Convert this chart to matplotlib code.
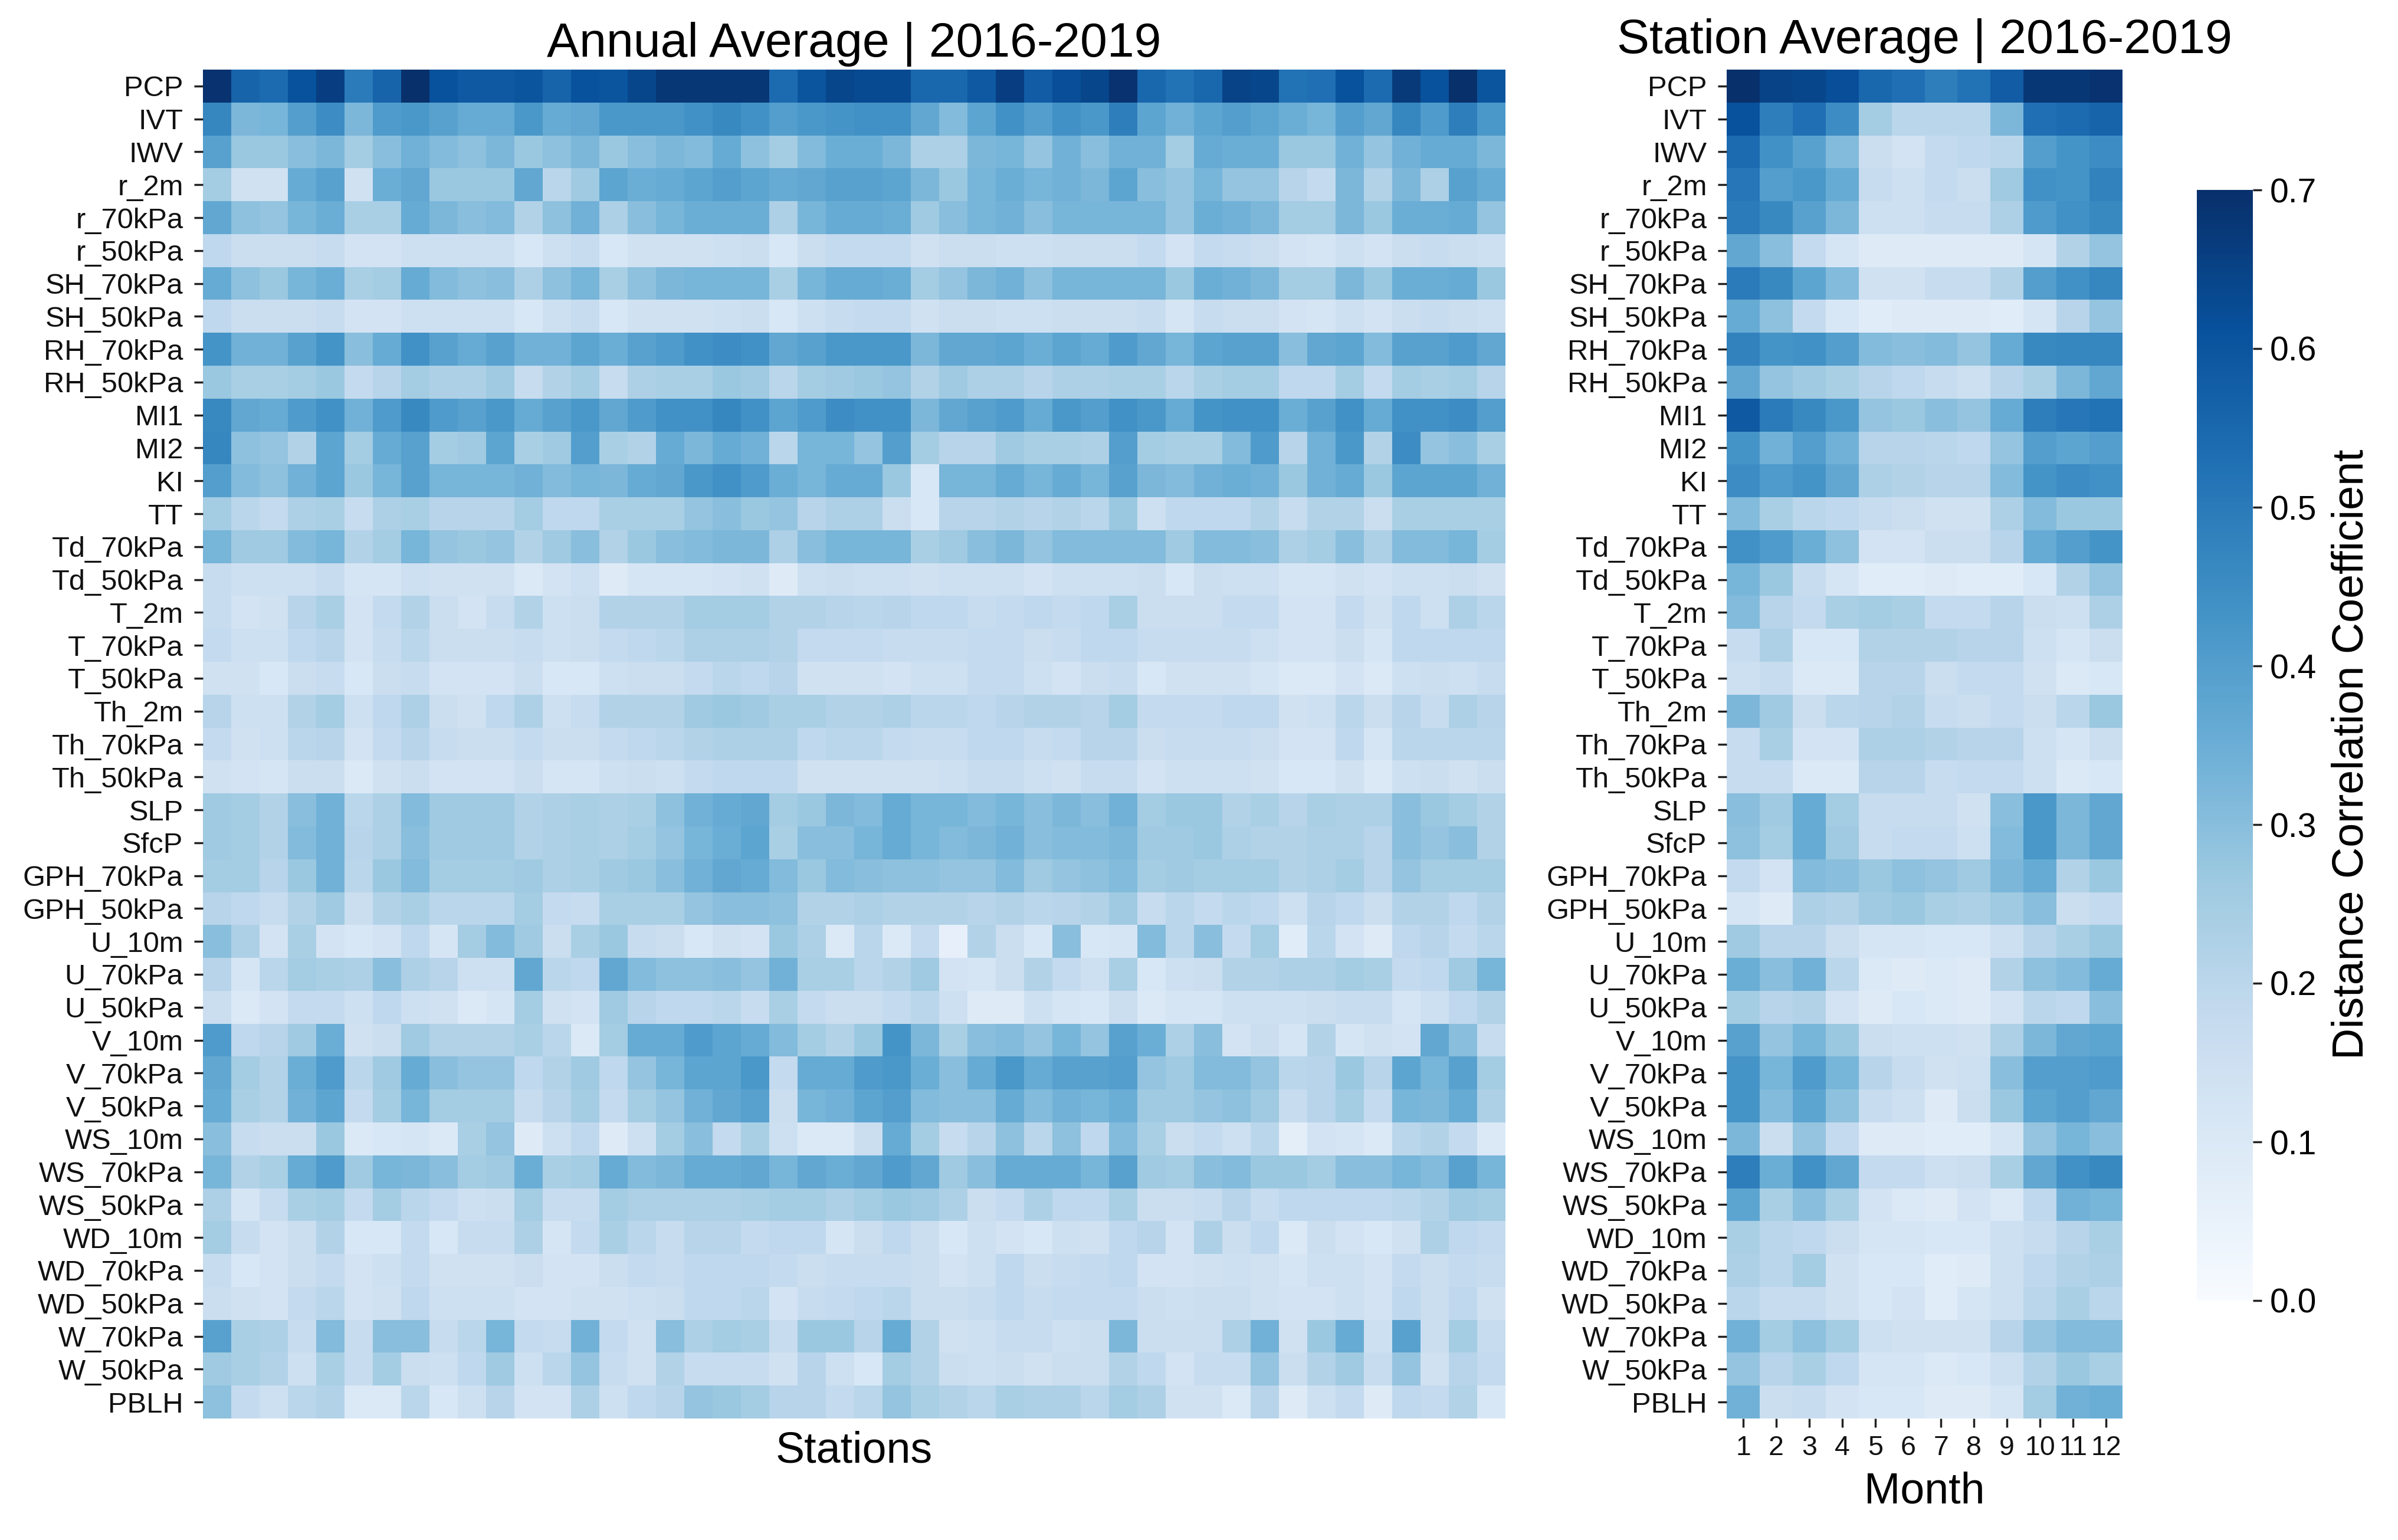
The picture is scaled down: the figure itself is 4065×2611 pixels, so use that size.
import numpy as np
import matplotlib
matplotlib.use("Agg")
import matplotlib.pyplot as plt

plt.rcParams['font.family'] = ['Liberation Sans', 'DejaVu Sans']

variables = ["PCP","IVT","IWV","r_2m","r_70kPa","r_50kPa","SH_70kPa","SH_50kPa","RH_70kPa","RH_50kPa",
             "MI1","MI2","KI","TT","Td_70kPa","Td_50kPa","T_2m","T_70kPa","T_50kPa","Th_2m","Th_70kPa",
             "Th_50kPa","SLP","SfcP","GPH_70kPa","GPH_50kPa","U_10m","U_70kPa","U_50kPa","V_10m","V_70kPa",
             "V_50kPa","WS_10m","WS_70kPa","WS_50kPa","WD_10m","WD_70kPa","WD_50kPa","W_70kPa","W_50kPa","PBLH"]
months = [str(m) for m in range(1, 13)]

station_values = [
[.69,.56,.54,.61,.66,.50,.56,.70,.61,.59,.59,.60,.56,.61,.60,.64,.68,.68,.68,.68,.54,.60,.64,.63,.63,.55,.55,.59,.66,.58,.62,.64,.69,.55,.52,.55,.65,.64,.52,.53,.61,.54,.67,.61,.70,.60],
[.47,.32,.33,.40,.45,.32,.41,.42,.39,.36,.36,.42,.36,.37,.42,.42,.42,.44,.46,.44,.40,.42,.43,.44,.44,.37,.31,.38,.44,.40,.44,.42,.49,.38,.34,.38,.40,.38,.35,.33,.40,.37,.47,.41,.49,.42],
[.39,.27,.27,.30,.32,.25,.30,.34,.31,.29,.32,.27,.29,.32,.27,.30,.32,.31,.36,.29,.25,.31,.35,.35,.32,.23,.23,.32,.33,.28,.34,.30,.34,.34,.25,.36,.35,.35,.27,.27,.34,.28,.34,.36,.36,.32],
[.25,.14,.14,.36,.39,.14,.35,.37,.27,.27,.27,.37,.20,.26,.38,.35,.36,.38,.40,.38,.36,.37,.39,.39,.38,.32,.27,.33,.35,.33,.34,.32,.38,.30,.28,.33,.28,.28,.21,.18,.32,.22,.32,.23,.39,.36],
[.37,.29,.28,.33,.35,.24,.24,.36,.32,.30,.31,.22,.29,.34,.23,.30,.33,.35,.35,.35,.23,.33,.36,.36,.35,.26,.30,.33,.34,.30,.33,.33,.33,.33,.28,.35,.34,.32,.25,.25,.32,.27,.35,.35,.36,.28],
[.19,.16,.16,.16,.17,.13,.13,.15,.15,.15,.15,.11,.15,.17,.11,.14,.14,.14,.15,.16,.11,.16,.18,.18,.18,.14,.16,.16,.15,.15,.16,.16,.16,.18,.13,.18,.17,.16,.13,.12,.15,.13,.16,.17,.16,.15],
[.36,.29,.27,.33,.35,.24,.25,.36,.31,.29,.30,.23,.29,.33,.24,.29,.32,.33,.33,.33,.24,.33,.36,.36,.35,.25,.28,.32,.34,.29,.33,.33,.33,.33,.27,.35,.34,.32,.25,.25,.32,.27,.35,.35,.36,.27],
[.19,.16,.16,.16,.17,.13,.13,.15,.15,.15,.15,.11,.15,.17,.11,.14,.14,.14,.15,.16,.11,.15,.17,.18,.18,.14,.16,.16,.15,.15,.16,.16,.16,.17,.12,.17,.16,.16,.13,.12,.15,.13,.16,.17,.16,.15],
[.43,.34,.34,.39,.43,.30,.36,.44,.39,.36,.39,.34,.34,.38,.35,.39,.41,.44,.45,.44,.37,.39,.42,.42,.42,.32,.37,.37,.38,.35,.38,.36,.41,.37,.33,.38,.39,.39,.30,.37,.38,.31,.39,.39,.41,.37],
[.27,.24,.24,.25,.27,.18,.21,.25,.23,.23,.26,.17,.22,.25,.17,.23,.24,.24,.27,.26,.20,.25,.26,.27,.28,.22,.26,.23,.23,.21,.23,.23,.24,.24,.20,.24,.25,.25,.19,.19,.25,.18,.25,.24,.25,.21],
[.46,.37,.36,.41,.44,.34,.41,.46,.41,.39,.42,.36,.39,.42,.37,.41,.44,.44,.47,.44,.38,.41,.45,.44,.44,.32,.37,.39,.41,.36,.42,.40,.44,.42,.36,.43,.44,.44,.35,.39,.44,.36,.44,.44,.45,.40],
[.47,.29,.28,.22,.38,.25,.36,.39,.25,.26,.38,.24,.26,.40,.24,.22,.36,.32,.36,.34,.20,.33,.33,.28,.40,.25,.21,.21,.26,.24,.24,.23,.40,.25,.24,.24,.31,.41,.21,.34,.42,.22,.45,.28,.30,.24],
[.40,.31,.29,.34,.38,.27,.33,.39,.33,.33,.33,.34,.31,.33,.32,.36,.37,.42,.44,.41,.35,.33,.36,.36,.27,.11,.33,.33,.36,.33,.36,.33,.39,.32,.31,.34,.35,.34,.27,.34,.36,.27,.38,.38,.38,.34],
[.25,.20,.18,.23,.24,.17,.23,.24,.21,.21,.21,.25,.19,.19,.24,.24,.24,.28,.30,.27,.28,.21,.23,.23,.16,.11,.21,.21,.22,.21,.22,.20,.27,.15,.19,.19,.19,.22,.17,.22,.22,.16,.24,.24,.24,.24],
[.33,.26,.26,.31,.33,.22,.25,.33,.28,.27,.28,.22,.26,.30,.22,.27,.30,.31,.32,.32,.23,.30,.33,.33,.33,.24,.26,.30,.32,.28,.31,.31,.31,.31,.26,.31,.31,.30,.23,.25,.30,.23,.31,.31,.33,.25],
[.17,.15,.15,.15,.17,.12,.12,.15,.14,.14,.14,.10,.13,.15,.09,.12,.12,.12,.13,.14,.09,.15,.16,.15,.15,.14,.15,.15,.15,.13,.15,.15,.15,.16,.11,.16,.15,.15,.12,.12,.14,.13,.15,.15,.16,.14],
[.17,.13,.14,.21,.24,.13,.18,.22,.16,.13,.17,.22,.15,.16,.22,.22,.22,.25,.25,.25,.22,.22,.21,.20,.21,.19,.19,.17,.18,.19,.18,.19,.24,.16,.16,.16,.18,.18,.13,.13,.18,.14,.19,.15,.23,.20],
[.18,.15,.15,.19,.21,.13,.17,.20,.16,.16,.16,.17,.15,.16,.18,.19,.20,.23,.23,.23,.22,.18,.18,.18,.17,.17,.17,.18,.18,.16,.17,.19,.19,.17,.17,.17,.17,.15,.13,.13,.16,.12,.19,.19,.19,.19],
[.14,.14,.11,.16,.17,.11,.16,.17,.13,.13,.13,.16,.11,.11,.15,.16,.16,.18,.20,.19,.21,.14,.14,.14,.13,.15,.15,.18,.18,.15,.13,.16,.17,.11,.14,.14,.14,.12,.10,.10,.13,.10,.15,.16,.15,.17],
[.21,.15,.15,.22,.25,.15,.19,.23,.16,.14,.19,.23,.15,.17,.22,.22,.22,.26,.27,.26,.24,.24,.22,.22,.23,.20,.20,.19,.21,.22,.22,.21,.25,.18,.18,.18,.19,.19,.14,.15,.20,.16,.21,.17,.23,.21],
[.18,.14,.15,.20,.21,.13,.18,.21,.17,.16,.16,.18,.16,.16,.18,.19,.20,.22,.23,.23,.23,.19,.20,.20,.18,.17,.17,.19,.19,.17,.18,.21,.21,.16,.17,.17,.17,.16,.13,.13,.19,.12,.20,.20,.20,.20],
[.14,.13,.12,.16,.16,.10,.14,.16,.13,.13,.13,.16,.12,.12,.15,.16,.15,.18,.19,.19,.19,.14,.14,.14,.14,.14,.15,.17,.17,.15,.14,.17,.17,.13,.15,.15,.15,.14,.11,.11,.14,.10,.15,.16,.14,.16],
[.26,.25,.22,.30,.34,.20,.23,.31,.26,.26,.26,.22,.23,.24,.23,.24,.29,.34,.36,.37,.25,.27,.32,.31,.36,.33,.33,.31,.33,.30,.32,.30,.34,.25,.27,.27,.22,.24,.21,.24,.23,.23,.30,.27,.25,.22],
[.26,.25,.22,.31,.34,.21,.23,.30,.26,.26,.26,.22,.23,.24,.23,.25,.28,.33,.35,.38,.24,.30,.30,.33,.36,.33,.31,.32,.34,.30,.31,.31,.32,.26,.26,.27,.23,.22,.22,.23,.23,.21,.30,.28,.30,.22],
[.25,.25,.21,.27,.34,.20,.27,.31,.25,.25,.25,.26,.23,.24,.26,.27,.30,.34,.37,.36,.31,.27,.31,.30,.29,.29,.28,.28,.31,.26,.28,.29,.31,.25,.26,.25,.25,.25,.22,.23,.25,.21,.28,.25,.25,.25],
[.21,.19,.17,.22,.26,.16,.22,.24,.20,.20,.20,.25,.18,.17,.24,.24,.24,.28,.30,.30,.29,.22,.22,.23,.22,.22,.22,.21,.22,.20,.21,.22,.26,.17,.20,.18,.20,.19,.15,.21,.19,.16,.22,.22,.19,.22],
[.30,.23,.13,.24,.13,.11,.13,.19,.12,.25,.31,.26,.16,.24,.27,.17,.16,.11,.14,.13,.27,.23,.10,.20,.10,.18,.06,.22,.16,.11,.30,.11,.12,.31,.20,.30,.18,.25,.08,.20,.13,.09,.19,.21,.18,.20],
[.21,.12,.20,.25,.24,.23,.30,.23,.21,.15,.15,.37,.20,.19,.37,.31,.29,.29,.30,.28,.34,.24,.24,.20,.22,.26,.13,.12,.16,.22,.18,.15,.24,.11,.15,.16,.22,.22,.23,.23,.25,.24,.18,.19,.26,.33],
[.16,.10,.13,.18,.18,.15,.19,.15,.14,.10,.12,.25,.14,.13,.26,.21,.19,.19,.20,.17,.24,.18,.16,.16,.18,.20,.15,.09,.09,.15,.12,.11,.16,.10,.12,.12,.15,.15,.15,.16,.17,.17,.12,.15,.19,.22],
[.41,.19,.21,.26,.35,.14,.16,.26,.22,.22,.22,.24,.20,.10,.25,.36,.36,.41,.38,.36,.31,.25,.22,.27,.43,.32,.24,.30,.31,.28,.33,.28,.39,.35,.23,.30,.13,.16,.12,.22,.12,.14,.13,.37,.30,.17],
[.37,.25,.22,.35,.41,.20,.26,.36,.30,.28,.28,.19,.22,.26,.19,.28,.33,.38,.38,.42,.18,.36,.36,.41,.42,.35,.30,.36,.42,.36,.39,.39,.40,.28,.26,.31,.31,.28,.20,.21,.27,.21,.38,.33,.39,.25],
[.36,.24,.22,.34,.38,.18,.25,.33,.25,.25,.25,.17,.21,.25,.18,.25,.28,.34,.37,.39,.16,.33,.34,.38,.40,.31,.30,.30,.36,.31,.34,.33,.35,.26,.26,.28,.29,.26,.17,.21,.25,.18,.33,.32,.36,.23],
[.30,.17,.16,.16,.27,.10,.11,.12,.10,.24,.28,.09,.15,.19,.09,.15,.25,.30,.18,.24,.15,.10,.10,.16,.36,.25,.17,.21,.29,.20,.29,.19,.31,.24,.16,.18,.15,.20,.07,.13,.12,.10,.20,.22,.18,.10],
[.33,.22,.24,.36,.41,.26,.33,.32,.30,.25,.26,.35,.24,.25,.36,.31,.32,.36,.36,.37,.33,.37,.35,.37,.41,.37,.26,.30,.36,.36,.36,.33,.39,.26,.25,.30,.31,.27,.27,.25,.30,.30,.33,.31,.39,.33],
[.23,.12,.17,.24,.25,.18,.25,.20,.18,.15,.16,.25,.17,.17,.25,.23,.23,.23,.23,.24,.25,.25,.23,.25,.27,.26,.23,.16,.18,.23,.19,.19,.24,.16,.16,.17,.21,.17,.19,.19,.19,.19,.20,.22,.26,.25],
[.25,.17,.13,.16,.22,.11,.11,.18,.11,.17,.17,.23,.12,.18,.24,.20,.17,.21,.21,.18,.19,.19,.12,.16,.19,.16,.11,.15,.13,.11,.15,.14,.19,.21,.13,.23,.16,.19,.10,.16,.13,.11,.14,.23,.19,.18],
[.17,.11,.13,.16,.18,.13,.15,.18,.14,.14,.14,.16,.13,.13,.16,.18,.17,.19,.19,.19,.18,.16,.17,.17,.17,.16,.13,.15,.19,.16,.17,.18,.19,.13,.13,.14,.15,.14,.12,.15,.15,.13,.18,.16,.18,.17],
[.16,.14,.13,.18,.20,.13,.14,.19,.15,.15,.15,.13,.13,.14,.14,.15,.16,.19,.19,.20,.13,.17,.18,.19,.20,.16,.16,.17,.19,.17,.18,.18,.18,.16,.15,.16,.16,.14,.13,.13,.15,.13,.19,.16,.19,.14],
[.39,.24,.23,.17,.31,.17,.30,.30,.17,.20,.33,.18,.17,.34,.18,.14,.30,.23,.25,.24,.17,.27,.27,.21,.36,.22,.14,.15,.17,.17,.15,.16,.32,.16,.16,.16,.23,.34,.14,.27,.36,.15,.39,.16,.25,.17],
[.26,.24,.22,.15,.24,.17,.25,.16,.15,.19,.26,.15,.20,.28,.17,.14,.22,.17,.17,.17,.14,.21,.15,.11,.25,.22,.16,.15,.16,.14,.16,.16,.22,.19,.13,.17,.17,.28,.16,.22,.26,.17,.28,.14,.21,.18],
[.29,.18,.15,.20,.22,.10,.10,.20,.11,.15,.21,.13,.13,.23,.15,.19,.21,.28,.27,.25,.21,.21,.18,.20,.28,.24,.22,.20,.24,.23,.23,.20,.25,.23,.14,.14,.10,.21,.09,.15,.18,.09,.19,.18,.22,.11],
]

month_values = [
[.70,.65,.64,.62,.55,.53,.49,.52,.58,.68,.68,.69],
[.61,.49,.53,.45,.25,.20,.20,.20,.32,.53,.54,.56],
[.54,.44,.39,.31,.16,.13,.18,.19,.20,.40,.43,.45],
[.51,.40,.42,.36,.17,.15,.18,.16,.26,.44,.43,.48],
[.50,.46,.39,.32,.15,.15,.17,.17,.23,.41,.44,.46],
[.37,.30,.18,.12,.09,.09,.09,.09,.09,.12,.22,.28],
[.50,.46,.38,.31,.14,.14,.17,.17,.22,.40,.44,.47],
[.36,.29,.18,.11,.08,.09,.09,.09,.08,.12,.21,.28],
[.48,.43,.44,.40,.31,.30,.31,.28,.36,.46,.47,.47],
[.37,.28,.26,.24,.21,.19,.17,.15,.21,.24,.32,.37],
[.59,.50,.46,.42,.28,.27,.30,.28,.36,.49,.51,.52],
[.43,.34,.40,.34,.21,.21,.20,.19,.28,.40,.38,.40],
[.45,.41,.43,.37,.23,.22,.21,.21,.31,.43,.45,.44],
[.31,.24,.20,.19,.17,.16,.14,.14,.23,.31,.27,.27],
[.44,.41,.35,.29,.13,.13,.16,.16,.21,.36,.40,.43],
[.33,.27,.17,.12,.08,.08,.09,.08,.08,.11,.22,.28],
[.31,.21,.18,.24,.25,.24,.18,.18,.21,.16,.15,.23],
[.17,.23,.11,.11,.22,.22,.22,.21,.21,.15,.12,.16],
[.15,.17,.10,.10,.21,.21,.16,.18,.18,.14,.10,.11],
[.32,.26,.16,.20,.21,.22,.17,.16,.18,.16,.20,.27],
[.17,.24,.13,.13,.23,.23,.22,.21,.21,.15,.12,.16],
[.17,.17,.10,.10,.21,.21,.17,.18,.18,.15,.10,.11],
[.30,.26,.36,.25,.17,.17,.17,.14,.30,.42,.32,.37],
[.29,.25,.36,.26,.17,.18,.18,.15,.31,.42,.32,.37],
[.18,.13,.31,.30,.27,.29,.28,.26,.32,.36,.22,.27],
[.12,.09,.23,.22,.26,.27,.24,.23,.26,.30,.16,.18],
[.26,.21,.21,.16,.12,.12,.11,.11,.15,.21,.24,.27],
[.35,.30,.34,.20,.10,.09,.10,.09,.22,.29,.31,.36],
[.25,.21,.22,.13,.09,.11,.10,.09,.13,.20,.19,.30],
[.39,.28,.33,.27,.16,.15,.15,.14,.23,.32,.37,.38],
[.43,.33,.41,.33,.21,.17,.14,.15,.30,.40,.40,.41],
[.43,.31,.38,.29,.17,.15,.09,.16,.27,.38,.40,.37],
[.32,.16,.28,.18,.09,.09,.08,.08,.12,.28,.33,.30],
[.49,.35,.44,.37,.18,.18,.15,.16,.24,.37,.44,.46],
[.38,.24,.30,.24,.13,.10,.09,.13,.10,.19,.34,.33],
[.24,.20,.19,.16,.12,.12,.11,.11,.15,.17,.21,.24],
[.23,.20,.25,.14,.11,.11,.08,.09,.15,.19,.22,.23],
[.20,.17,.17,.14,.11,.13,.08,.12,.15,.20,.24,.20],
[.34,.25,.29,.25,.15,.14,.14,.14,.21,.28,.31,.31],
[.28,.21,.24,.19,.12,.12,.10,.11,.15,.22,.27,.24],
[.34,.16,.17,.13,.11,.11,.09,.09,.12,.25,.34,.35],
]

W, H = 4065, 2611
fig = plt.figure(figsize=(W / 100, H / 100), dpi=100, facecolor='white')

def add_ax(x0, y0, x1, y1):
    return fig.add_axes([x0 / W, 1 - y1 / H, (x1 - x0) / W, (y1 - y0) / H])

ax1 = add_ax(344, 118, 2552, 2405)
ax2 = add_ax(2927, 118, 3598, 2405)
cax = add_ax(3724, 322, 3819, 2205)

norm = dict(cmap='Blues', vmin=0, vmax=0.7)
m1 = ax1.pcolormesh(np.array(station_values), **norm)
m2 = ax2.pcolormesh(np.array(month_values), **norm)

yt = np.arange(len(variables)) + 0.5
for ax in (ax1, ax2):
    ax.invert_yaxis()
    ax.set_yticks(yt, variables)
    ax.tick_params(axis='y', labelsize=35.2, length=11, width=2.5, pad=13, color='#222222', labelcolor='#111111')
    for s in ax.spines.values():
        s.set_visible(False)

ax1.set_xticks([])
ax1.set_xlabel('Stations', fontsize=53, labelpad=15)
ax1.set_title('Annual Average | 2016-2019', fontsize=59.3, pad=16)

ax2.set_xticks(np.arange(12) + 0.5, months)
ax2.tick_params(axis='x', labelsize=33.5, length=11, width=2.5, pad=9, color='#222222', labelcolor='#111111')
ax2.set_xlabel('Month', fontsize=53, labelpad=13)
ax2.set_title('Station Average | 2016-2019', fontsize=59.4, pad=20)

cb = fig.colorbar(m2, cax=cax)
cb.outline.set_visible(False)
cb.set_ticks(np.arange(0, 0.71, 0.1))
cb.ax.tick_params(labelsize=41, length=11, width=2.5, pad=10, color='#222222')
cb.set_label('Distance Correlation Coefficient', fontsize=53, labelpad=17, y=0.492)

fig.savefig('out.png', dpi=100, facecolor='white')
